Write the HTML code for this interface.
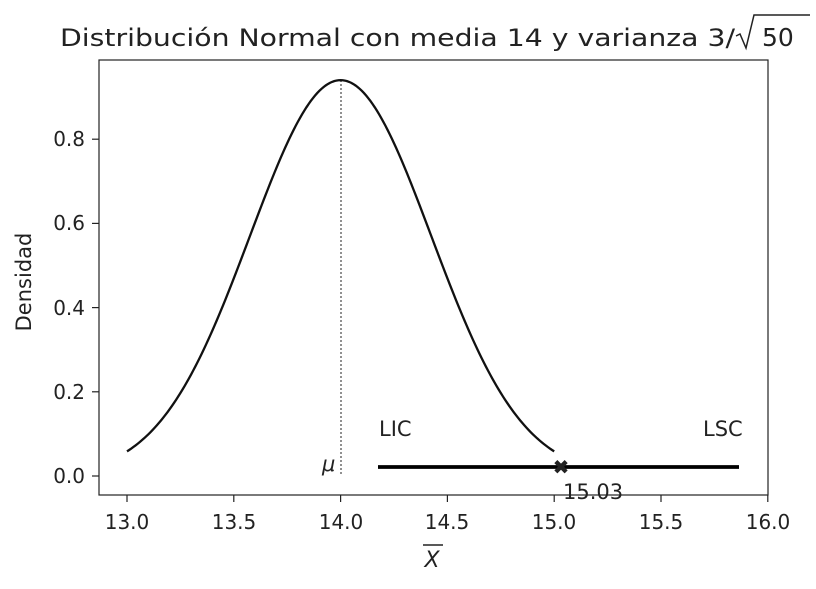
<!DOCTYPE html>
<html><head><meta charset="utf-8"><style>
body{margin:0;background:#fff;}
svg text{font-family:"DejaVu Sans","Liberation Sans",sans-serif;fill:#222;}
</style></head><body>
<svg id="s" width="816" height="584" xmlns="http://www.w3.org/2000/svg">
<rect x="0" y="0" width="816" height="584" fill="#fff"/>
<text x="60" y="46" font-size="24" textLength="675" lengthAdjust="spacingAndGlyphs">Distribución Normal con media 14 y varianza 3/</text>
<polyline points="736,36 740,34 746,48 754,15 810,15" fill="none" stroke="#222" stroke-width="1.5"/>
<text x="762" y="46" font-size="25">50</text>
<rect x="99" y="60" width="669" height="435" fill="none" stroke="#222" stroke-width="1.2"/>
<g id="ticks" stroke="#222" stroke-width="1.2"></g>
<g font-size="20" text-anchor="middle">
<text x="127" y="529">13.0</text><text x="234" y="529">13.5</text><text x="341" y="529">14.0</text>
<text x="447" y="529">14.5</text><text x="554" y="529">15.0</text><text x="661" y="529">15.5</text><text x="768" y="529">16.0</text>
</g>
<g font-size="20" text-anchor="end">
<text x="85" y="483">0.0</text><text x="85" y="399">0.2</text><text x="85" y="315">0.4</text>
<text x="85" y="230">0.6</text><text x="85" y="146">0.8</text>
</g>
<text x="432" y="567" font-size="22" font-style="italic" text-anchor="middle">X</text>
<line x1="423" y1="545" x2="443" y2="545" stroke="#222" stroke-width="1.5"/>
<text transform="translate(31,282) rotate(-90)" font-size="21" text-anchor="middle">Densidad</text>
<line x1="341" y1="80" x2="341" y2="476" stroke="#222" stroke-width="1" stroke-dasharray="2,2"/>
<path id="curve" fill="none" stroke="#111" stroke-width="2.3"/>
<line x1="378" y1="467" x2="739" y2="467" stroke="#000" stroke-width="3.8"/>
<text x="561" y="474" font-size="20" font-weight="bold" text-anchor="middle">✖</text>
<text x="379" y="436" font-size="21">LIC</text>
<text x="703" y="436" font-size="21">LSC</text>
<text x="322" y="471" font-size="21" font-style="italic">μ</text>
<text x="563" y="499" font-size="21">15.03</text>
</svg>
<script>
var sd=3/Math.sqrt(50),d="",X=function(x){return 127+(x-13)*213.6},Y=function(y){return 476-y*421};
for(var i=0;i<=200;i++){var x=13+2*i/200,y=Math.exp(-0.5*Math.pow((x-14)/sd,2))/(sd*Math.sqrt(2*Math.PI));d+=(i?"L":"M")+X(x).toFixed(2)+","+Y(y).toFixed(2);}
document.getElementById("curve").setAttribute("d",d);
var g=document.getElementById("ticks"),h="";
[13,13.5,14,14.5,15,15.5,16].forEach(function(v){var x=X(v);h+='<line x1="'+x+'" y1="495" x2="'+x+'" y2="502"/>';});
[0,0.2,0.4,0.6,0.8].forEach(function(v){var y=Y(v);h+='<line x1="92" y1="'+y+'" x2="99" y2="'+y+'"/>';});
g.innerHTML=h;
</script>
</body></html>
